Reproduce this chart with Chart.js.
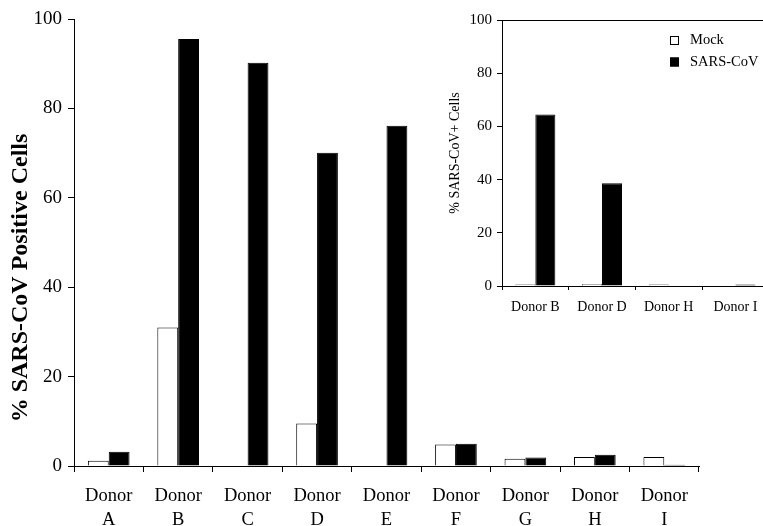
<!DOCTYPE html>
<html lang="en">
<head>
<meta charset="UTF-8">
<title>SARS-CoV Positive Cells</title>
<script src="https://cdnjs.cloudflare.com/ajax/libs/Chart.js/4.4.1/chart.umd.min.js"></script>
<style>
    html, body { margin: 0; padding: 0; background: #fff; overflow: hidden; width: 763px; height: 526px; }
    #mainChart { position: absolute; left: 0; top: 0; }
    #insetChart { position: absolute; left: 420px; top: 0; }
</style>
</head>
<body>
<canvas id="mainChart" width="763" height="526"></canvas>
<canvas id="insetChart" width="360" height="330"></canvas>
<script>
// main panel data
const donors = [['Donor', 'A'], ['Donor', 'B'], ['Donor', 'C'], ['Donor', 'D'], ['Donor', 'E'],
                ['Donor', 'F'], ['Donor', 'G'], ['Donor', 'H'], ['Donor', 'I']];
const mockMain = [1.2, 31, 0, 9.5, 0, 4.8, 1.6, 2.0, 2.0];
const sarsMain = [3.2, 95.5, 90.2, 70.1, 76.1, 5.0, 1.9, 2.5, 0.3];

// inset data
const insetDonors = ['Donor B', 'Donor D', 'Donor H', 'Donor I'];
const mockInset = [0.6, 0.7, 0.6, 0];
const sarsInset = [64.5, 38.6, 0, 0.6];

const yTicks = [0, 20, 40, 60, 80, 100];
const seriesNames = ['Mock', 'SARS-CoV'];

Chart.defaults.font.family = '"Liberation Serif", "Times New Roman", serif';
Chart.defaults.color = '#000';

// rotated y title placed off-centre like the original
const sideTitle = {
    id: 'sideTitle',
    afterDraw(chart, args, opts) {
        const ctx = chart.ctx;
        ctx.save();
        ctx.translate(opts.x, opts.y);
        ctx.rotate(-Math.PI / 2);
        ctx.font = 'bold ' + opts.size + 'px "Liberation Serif"';
        ctx.fillStyle = '#000';
        ctx.textAlign = 'center';
        ctx.textBaseline = 'middle';
        ctx.fillText(opts.text, 0, 0);
        ctx.restore();
    }
};

// small square legend inside the plot area
const boxLegend = {
    id: 'boxLegend',
    afterDraw(chart, args, opts) {
        const { ctx, chartArea } = chart;
        ctx.save();
        chart.data.datasets.forEach((ds, i) => {
            const x = chartArea.left + opts.dx;
            const y = chartArea.top + opts.dy + i * opts.gap;
            ctx.fillStyle = ds.backgroundColor;
            ctx.fillRect(x, y - 4.5, 9, 9);
            ctx.strokeStyle = '#000';
            ctx.lineWidth = 1;
            ctx.strokeRect(x + 0.5, y - 4, 8, 8);
            ctx.fillStyle = '#000';
            ctx.font = opts.size + 'px "Liberation Serif"';
            ctx.textAlign = 'left';
            ctx.textBaseline = 'middle';
            ctx.fillText(ds.label, x + 20, y);
        });
        ctx.restore();
    }
};

function makeDatasets(mock, sars) {
    return [
        { label: seriesNames[0], data: mock, backgroundColor: '#fff', borderColor: '#000', borderWidth: 1, xAxisID: 'x' },
        { label: seriesNames[1], data: sars, backgroundColor: '#000', borderColor: '#000', borderWidth: 1, xAxisID: 'x' }
    ];
}

new Chart(document.getElementById('mainChart'), {
    type: 'bar',
    data: { labels: donors, datasets: makeDatasets(mockMain, sarsMain) },
    options: {
        responsive: false,
        animation: false,
        layout: { padding: { top: 19, right: 64, left: 0, bottom: 0 } },
        datasets: { bar: { categoryPercentage: 0.6, barPercentage: 1 } },
        plugins: {
            legend: { display: false },
            tooltip: { enabled: false },
            sideTitle: { text: '% SARS-CoV Positive Cells', x: 21, y: 278, size: 24 }
        },
        scales: {
            x: {
                grid: { drawOnChartArea: false, tickLength: 6, color: '#000', offset: true },
                border: { color: '#000', width: 1 },
                ticks: { font: { size: 18.5, lineHeight: 1.25 }, padding: 13, maxRotation: 0, autoSkip: false },
                afterFit: s => { s.height = 60; s.paddingLeft = 0; s.paddingRight = 0; }
            },
            y: {
                min: 0, max: 100,
                afterBuildTicks: s => { s.ticks = yTicks.map(v => ({ value: v })); },
                grid: { drawOnChartArea: false, tickLength: 6, color: '#000' },
                border: { color: '#000', width: 1 },
                ticks: { font: { size: 19 }, padding: 6 },
                afterFit: s => { s.width = 74; s.paddingTop = 0; s.paddingBottom = 0; }
            }
        }
    },
    plugins: [sideTitle]
});

new Chart(document.getElementById('insetChart'), {
    type: 'bar',
    data: { labels: insetDonors, datasets: makeDatasets(mockInset, sarsInset) },
    options: {
        responsive: false,
        animation: false,
        layout: { padding: { top: 20, right: 11.3, left: 0, bottom: 0 } },
        datasets: { bar: { categoryPercentage: 0.6, barPercentage: 1 } },
        plugins: {
            legend: { display: false },
            tooltip: { enabled: false },
            boxLegend: { dx: 168, dy: 20.5, gap: 21.5, size: 14.5 }
        },
        scales: {
            x: {
                grid: { drawOnChartArea: false, tickLength: 4, color: '#000', offset: true },
                border: { color: '#000', width: 1 },
                ticks: { font: { size: 14, lineHeight: 1.2 }, padding: 9, maxRotation: 0, autoSkip: false },
                afterFit: s => { s.height = 44; s.paddingLeft = 0; s.paddingRight = 0; }
            },
            xTop: {
                type: 'category',
                position: 'top',
                labels: insetDonors,
                grid: { drawOnChartArea: false, drawTicks: false },
                border: { display: true, color: '#000', width: 1 },
                ticks: { display: false }
            },
            y: {
                min: 0, max: 100,
                afterBuildTicks: s => { s.ticks = yTicks.map(v => ({ value: v })); },
                grid: { drawOnChartArea: false, tickLength: 5, color: '#000' },
                border: { color: '#000', width: 1 },
                ticks: { font: { size: 15 }, padding: 5 },
                title: { display: true, text: '% SARS-CoV+ Cells', font: { size: 14 }, padding: { top: 26.6, bottom: 0 } },
                afterFit: s => { s.width = 82; s.paddingTop = 0; s.paddingBottom = 0; }
            }
        }
    },
    plugins: [boxLegend]
});
</script>
</body>
</html>
